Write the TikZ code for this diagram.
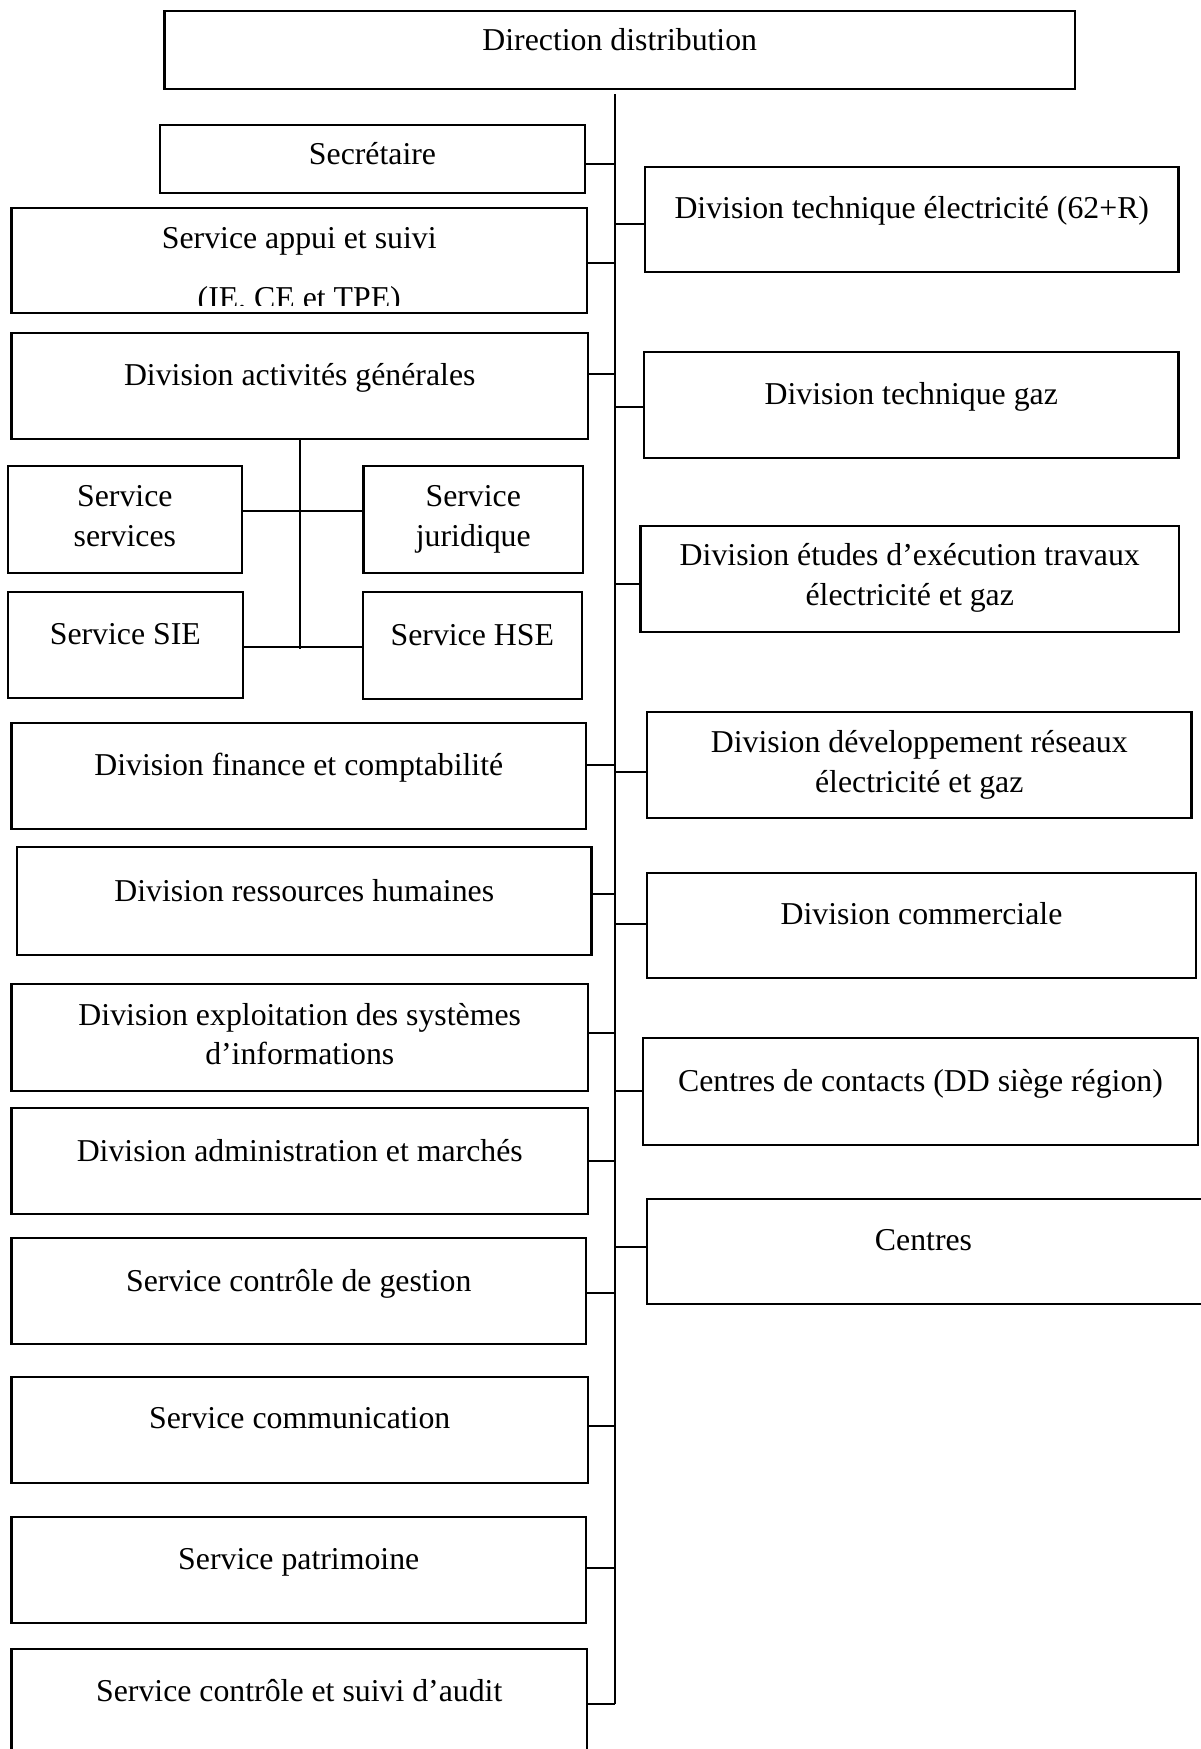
\documentclass[tikz,border=0pt]{standalone}
\usepackage{fontspec}
\setmainfont{Liberation Serif}
\begin{document}
\begin{tikzpicture}[x=0.75pt,y=-0.75pt,
  box/.style={draw, line width=1.6pt, inner sep=0pt},
  lbl/.style={inner sep=0pt, anchor=base, font=\fontsize{23.85}{30}\selectfont},
  link/.style={line width=1.6pt},
  trunk/.style={line width=1.3pt}]
\useasboundingbox (0,0) rectangle (1200,1749);

% rectangle given by its corners (x1,y1) and (x2,y2)
\newcommand\orgbox[5]{%
  \node[box, minimum width={(#4-#2)*0.75pt}, minimum height={(#5-#3)*0.75pt}]
    (#1) at ({(#2+#4)/2},{(#3+#5)/2}) {};}
% one line of text: name, centre x, baseline y, text
\newcommand\orgtext[4]{\node[lbl] (#1) at (#2,#3) {#4};}

% ---- boxes ----
\orgbox{dir}{164.5}{11}{1075}{89}
\orgbox{sec}{160}{125}{585}{193}
\orgbox{appui}{11.5}{208}{587}{313}
\orgbox{dte}{645}{167}{1178.5}{272}
\orgbox{dag}{11.5}{333}{588}{439}
\orgbox{dtg}{644}{352}{1178.5}{458}
\orgbox{ssv}{7.7}{466}{242}{573}
\orgbox{sjur}{363.5}{466}{583}{573}
\orgbox{ssie}{7.7}{592}{243}{698}
\orgbox{shse}{363}{592}{581.6}{699}
\orgbox{dee}{640.5}{526}{1179}{632}
\orgbox{dfc}{11.5}{723}{586}{829}
\orgbox{ddr}{647}{712}{1191.5}{818}
\orgbox{drh}{17}{847}{591.5}{955}
\orgbox{dcom}{647}{873}{1196}{978}
\orgbox{desi}{11.5}{984}{588}{1091}
\orgbox{ccont}{643}{1038}{1198}{1145}
\orgbox{dam}{11.5}{1108}{588}{1214}
\orgbox{ctr}{647}{1199}{1204}{1304}
\orgbox{scg}{11.5}{1238}{586}{1344}
\orgbox{scom}{11.5}{1377}{588}{1483}
\orgbox{spat}{11.5}{1517}{586}{1623}
\orgbox{saud}{11.5}{1649}{587}{1762}

% ---- texts ----
\orgtext{dir-t}{619.75}{50.7}{Direction distribution}
\orgtext{sec-t}{372.5}{164}{Secrétaire}
\orgtext{appui-t1}{299.25}{248}{Service appui et suivi}
\begin{scope}
  \clip (11.5,208) rectangle (587,305);
  \orgtext{appui-t2}{299.25}{308}{(IE, CE et TPE)}
\end{scope}
\orgtext{dte-t}{911.75}{218}{Division technique électricité (62+R)}
\orgtext{dag-t}{299.75}{385}{Division activités générales}
\orgtext{dtg-t}{911.25}{404}{Division technique gaz}
\orgtext{ssv-t1}{124.85}{506}{Service}
\orgtext{ssv-t2}{124.85}{546}{services}
\orgtext{sjur-t1}{473.25}{506}{Service}
\orgtext{sjur-t2}{473.25}{546}{juridique}
\orgtext{ssie-t}{125.35}{644}{Service SIE}
\orgtext{shse-t}{472.3}{645}{Service HSE}
\orgtext{dee-t1}{909.75}{565}{Division études d’exécution travaux}
\orgtext{dee-t2}{909.75}{605}{électricité et gaz}
\orgtext{dfc-t}{298.75}{775}{Division finance et comptabilité}
\orgtext{ddr-t1}{919.25}{752}{Division développement réseaux}
\orgtext{ddr-t2}{919.25}{792}{électricité et gaz}
\orgtext{drh-t}{304.25}{901}{Division ressources humaines}
\orgtext{dcom-t}{921.5}{924}{Division commerciale}
\orgtext{desi-t1}{299.75}{1025}{Division exploitation des systèmes}
\orgtext{desi-t2}{299.75}{1064}{d’informations}
\orgtext{ccont-t}{920.5}{1091}{Centres de contacts (DD siège région)}
\orgtext{dam-t}{299.75}{1161}{Division administration et marchés}
\orgtext{ctr-t}{923.5}{1250}{Centres}
\orgtext{scg-t}{298.75}{1291}{Service contrôle de gestion}
\orgtext{scom-t}{299.75}{1428}{Service communication}
\orgtext{spat-t}{298.75}{1569}{Service patrimoine}
\orgtext{saud-t}{299.25}{1701}{Service contrôle et suivi d’audit}

% ---- main trunk ----
\coordinate (top) at (615,94);
\coordinate (bot) at (615,1704);
\draw[trunk] (top) -- (bot);

% branches: box name and height of the branch
\foreach \b/\y in {sec/164, appui/263, dag/374, dfc/765, drh/894, desi/1033,
                   dam/1161, scg/1293, scom/1426, spat/1568, saud/1704}
  \draw[link] (\b.east |- 0,\y) -- (top |- 0,\y);
\foreach \b/\y in {dte/224, dtg/407, dee/584, ddr/772, dcom/924,
                   ccont/1091, ctr/1247}
  \draw[link] (top |- 0,\y) -- (\b.west |- 0,\y);

% ---- services under Division activités générales ----
\coordinate (sub) at (301,649);
\draw[trunk] (dag.south) -- (dag.south |- sub);
\draw[link] (ssv.east |- 0,511) -- (sjur.west |- 0,511);
\draw[link] (ssie.east |- 0,647) -- (shse.west |- 0,647);
\end{tikzpicture}
\end{document}
